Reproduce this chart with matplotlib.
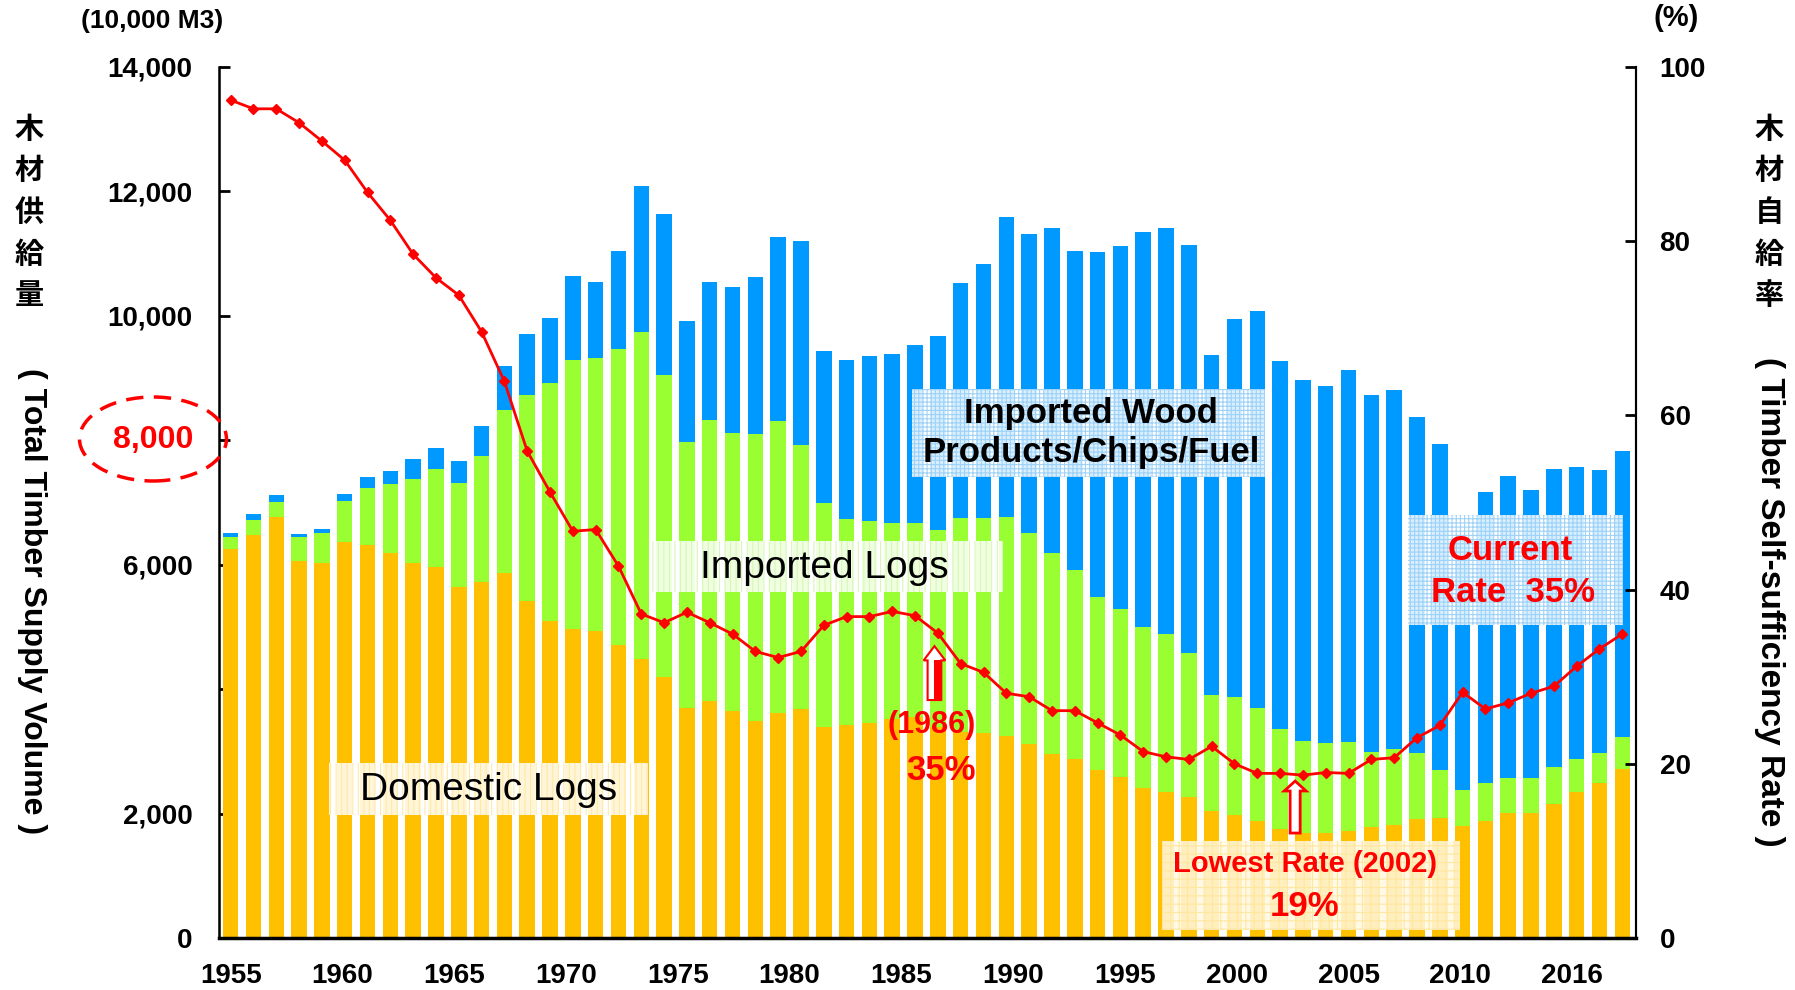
"""Japan timber supply volume (stacked bars) and self-sufficiency rate (line)."""

import matplotlib

matplotlib.use("Agg")
import matplotlib.pyplot as plt  # noqa: E402
import matplotlib.transforms as mtransforms  # noqa: E402
import numpy as np  # noqa: E402
from matplotlib.patches import Ellipse, FancyArrow, Rectangle  # noqa: E402

plt.rcParams["font.family"] = ["Liberation Sans", "Noto Sans CJK JP", "DejaVu Sans"]

# ---- data (10,000 m3 and %) ----
years = list(range(1955, 2017))
domestic_logs = [
    6251, 6476, 6765, 6063, 6020, 6358, 6321, 6182, 6032, 5962,
    5646, 5716, 5871, 5421, 5089, 4966, 4928, 4703, 4489, 4200,
    3701, 3809, 3653, 3482, 3611, 3685, 3386, 3423, 3450, 3514,
    3545, 3384, 3317, 3300, 3241, 3122, 2962, 2872, 2700, 2582,
    2416, 2346, 2271, 2046, 1977, 1885, 1747, 1683, 1683, 1720,
    1779, 1811, 1912, 1923, 1805, 1880, 2004, 2014, 2158, 2351,
    2491, 2722,
]
imported_logs = [
    193, 241, 242, 381, 488, 665, 911, 1114, 1344, 1575,
    1671, 2024, 2619, 3305, 3825, 4323, 4393, 4767, 5249, 4847,
    4270, 4515, 4462, 4617, 4697, 4238, 3599, 3305, 3251, 3150,
    3119, 3167, 3427, 3444, 3524, 3381, 3220, 3042, 2780, 2700,
    2587, 2534, 2304, 1859, 1891, 1811, 1607, 1483, 1446, 1425,
    1205, 1221, 1056, 772, 578, 606, 562, 562, 595, 531,
    482, 502,
]
imported_products = [
    64, 97, 112, 48, 65, 112, 176, 209, 327, 342,
    348, 488, 700, 985, 1054, 1354, 1216, 1570, 2347, 2583,
    1944, 2213, 2352, 2523, 2962, 3278, 2453, 2555, 2657, 2721,
    2866, 3118, 3787, 4082, 4816, 4810, 5223, 5126, 5539, 5843,
    6347, 6525, 6571, 5459, 6085, 6385, 5924, 5796, 5747, 5983,
    5742, 5780, 5404, 5239, 4017, 4686, 4863, 4623, 4779, 4682,
    4555, 4609,
]
self_sufficiency = [
    96.2, 95.2, 95.2, 93.6, 91.5, 89.3, 85.6, 82.4, 78.5, 75.8,
    73.8, 69.6, 63.9, 55.9, 51.2, 46.7, 46.9, 42.7, 37.2, 36.2,
    37.4, 36.2, 34.9, 32.9, 32.2, 32.9, 35.9, 36.9, 36.9, 37.5,
    37.0, 35.0, 31.5, 30.5, 28.1, 27.7, 26.1, 26.1, 24.7, 23.3,
    21.4, 20.8, 20.5, 22.0, 20.0, 18.9, 18.9, 18.7, 19.0, 18.9,
    20.5, 20.7, 23.0, 24.4, 28.2, 26.3, 27.0, 28.1, 28.9, 31.2,
    33.2, 34.9,
]
x_labels = ["1955", "1960", "1965", "1970", "1975", "1980", "1985",
            "1990", "1995", "2000", "2005", "2010", "2016"]
left_ticks = [0, 2000, 4000, 6000, 8000, 10000, 12000, 14000]
left_labels = ["0", "2,000", "", "6,000", "", "10,000", "12,000", "14,000"]
right_ticks = [0, 20, 40, 60, 80, 100]

ORANGE = "#FFC000"
GREEN = "#99FF33"
BLUE = "#0099FF"
RED = "#FF0000"

W, H = 1795, 990


def fx(px):
    return px / W


def fy(py):
    return 1 - py / H


fig = plt.figure(figsize=(W / 100, H / 100), dpi=100)
ax = fig.add_axes([fx(219), fy(938), fx(1636) - fx(219), fy(67) - fy(938)])

x = np.arange(len(years))
dom = np.array(domestic_logs)
logs = np.array(imported_logs)
prod = np.array(imported_products)
bw = 0.68
ax.bar(x, dom, bw, color=ORANGE, zorder=2)
ax.bar(x, logs, bw, bottom=dom, color=GREEN, zorder=2)
ax.bar(x, prod, bw, bottom=dom + logs, color=BLUE, zorder=2)

ax.set_xlim(-0.51, 61.6)
ax.set_ylim(0, 14000)
ax.set_yticks(left_ticks)
ax.set_yticklabels(left_labels, fontsize=20, fontweight="bold")
ax.set_xticks(np.arange(len(x_labels)) * 4.9)
ax.set_xticklabels(x_labels, fontsize=20, fontweight="bold")
ax.tick_params(axis="x", length=0, pad=18)
ax.tick_params(axis="y", direction="in", length=8, width=2, pad=19)
ax.spines["top"].set_visible(False)
ax.spines["left"].set_linewidth(1.8)
ax.spines["bottom"].set_linewidth(2.5)
ax.spines["right"].set_linewidth(1.5)

ax2 = ax.twinx()
ax2.plot(x, self_sufficiency, color=RED, lw=2, marker="D", ms=5.5, zorder=5)
ax2.set_ylim(0, 100)
ax2.set_yticks(right_ticks)
ax2.set_yticklabels([str(t) for t in right_ticks], fontsize=20, fontweight="bold")
ax2.tick_params(axis="y", direction="in", length=8, width=2, pad=17)
ax2.spines["top"].set_visible(False)
ax2.spines["right"].set_linewidth(1.5)

# ---- highlighted 8,000 label ----
blend = mtransforms.blended_transform_factory(fig.transFigure, ax.transData)
fig.text(fx(153), 8000, "8,000", transform=blend, color=RED, fontsize=23,
         fontweight="bold", ha="center", va="center")
fig.add_artist(Ellipse((fx(153), fy(439)), fx(147), 84 / H, transform=fig.transFigure,
                       fill=False, edgecolor=RED, lw=2.5, linestyle=(0, (5, 3))))

# ---- axis titles ----
fig.text(fx(152), fy(21), "(10,000 M3)", fontsize=19, fontweight="bold", ha="center", va="center")
fig.text(fx(1676), fy(18), "(%)", fontsize=21, fontweight="bold", ha="center", va="center")
fig.text(fx(29), fy(213), "木\n材\n供\n給\n量", fontsize=21, fontweight="bold",
         ha="center", va="center", linespacing=1.62)
fig.text(fx(1769), fy(213), "木\n材\n自\n給\n率", fontsize=21, fontweight="bold",
         ha="center", va="center", linespacing=1.62)
fig.text(fx(32), fy(601), "( Total Timber Supply Volume )", fontsize=23, fontweight="bold",
         rotation=-90, ha="center", va="center")
fig.text(fx(1769), fy(602), "( Timber Self-sufficiency Rate )", fontsize=24, fontweight="bold",
         rotation=-90, ha="center", va="center")


# ---- label boxes ----
def pattern_box(x0, y0, x1, y1, face, hatch, hatch_color, alpha=0.8):
    fig.add_artist(Rectangle((fx(x0), fy(y1)), fx(x1 - x0), (y1 - y0) / H,
                             transform=fig.transFigure, facecolor=face, alpha=alpha,
                             edgecolor="none", zorder=3))
    fig.add_artist(Rectangle((fx(x0), fy(y1)), fx(x1 - x0), (y1 - y0) / H,
                             transform=fig.transFigure, facecolor="none", hatch=hatch,
                             edgecolor=hatch_color, lw=0, zorder=3))


plt.rcParams["hatch.linewidth"] = 0.8
pattern_box(912, 389, 1265, 477, "white", "++++", "#9fd2f7", 0.85)
fig.text(fx(1091), fy(433), "Imported Wood\nProducts/Chips/Fuel", fontsize=25,
         fontweight="bold", ha="center", va="center", linespacing=1.2, zorder=4)

pattern_box(650, 541, 1003, 592, "white", "|||", "#d6f7b8", 0.85)
fig.text(fx(824), fy(568), "Imported Logs", fontsize=28, ha="center", va="center", zorder=4)

pattern_box(329, 763, 648, 815, "white", "|||", "#ffe9a6", 0.85)
fig.text(fx(489), fy(790), "Domestic Logs", fontsize=28, ha="center", va="center", zorder=4)

pattern_box(1162, 841, 1460, 930, "#fff8e1", "++", "#ffe7a0", 0.85)
fig.text(fx(1305), fy(864), "Lowest Rate (2002)", fontsize=21, fontweight="bold",
         color=RED, ha="center", va="center", zorder=4)
fig.text(fx(1305), fy(906), "19%", fontsize=25, fontweight="bold",
         color=RED, ha="center", va="center", zorder=4)

pattern_box(1408, 515, 1623, 625, "white", "++++", "#9fd2f7", 0.85)
fig.text(fx(1510), fy(550), "Current", fontsize=25, fontweight="bold",
         color=RED, ha="center", va="center", zorder=4)
fig.text(fx(1513), fy(592), "Rate  35%", fontsize=25, fontweight="bold",
         color=RED, ha="center", va="center", zorder=4)

fig.text(fx(932), fy(725), "(1986)", fontsize=22, fontweight="bold",
         color=RED, ha="center", va="center")
fig.text(fx(941), fy(770), "35%", fontsize=25, fontweight="bold",
         color=RED, ha="center", va="center")

# ---- block arrows ----
ax.add_patch(FancyArrow(30.85, 3825, 0, 4692 - 3825, width=0.6, head_width=0.95,
                        head_length=230, length_includes_head=True,
                        facecolor="white", edgecolor=RED, lw=1.5, zorder=4))
ax.add_patch(Rectangle((30.85, 3825), 0.3, 4692 - 3825 - 230, facecolor=RED,
                       edgecolor="none", zorder=4))
ax.add_patch(FancyArrow(46.66, 1687, 0, 2523 - 1687, width=0.44, head_width=0.96,
                        head_length=160, length_includes_head=True,
                        facecolor="white", edgecolor=RED, lw=2, zorder=4))

fig.savefig("out.png", dpi=100)
